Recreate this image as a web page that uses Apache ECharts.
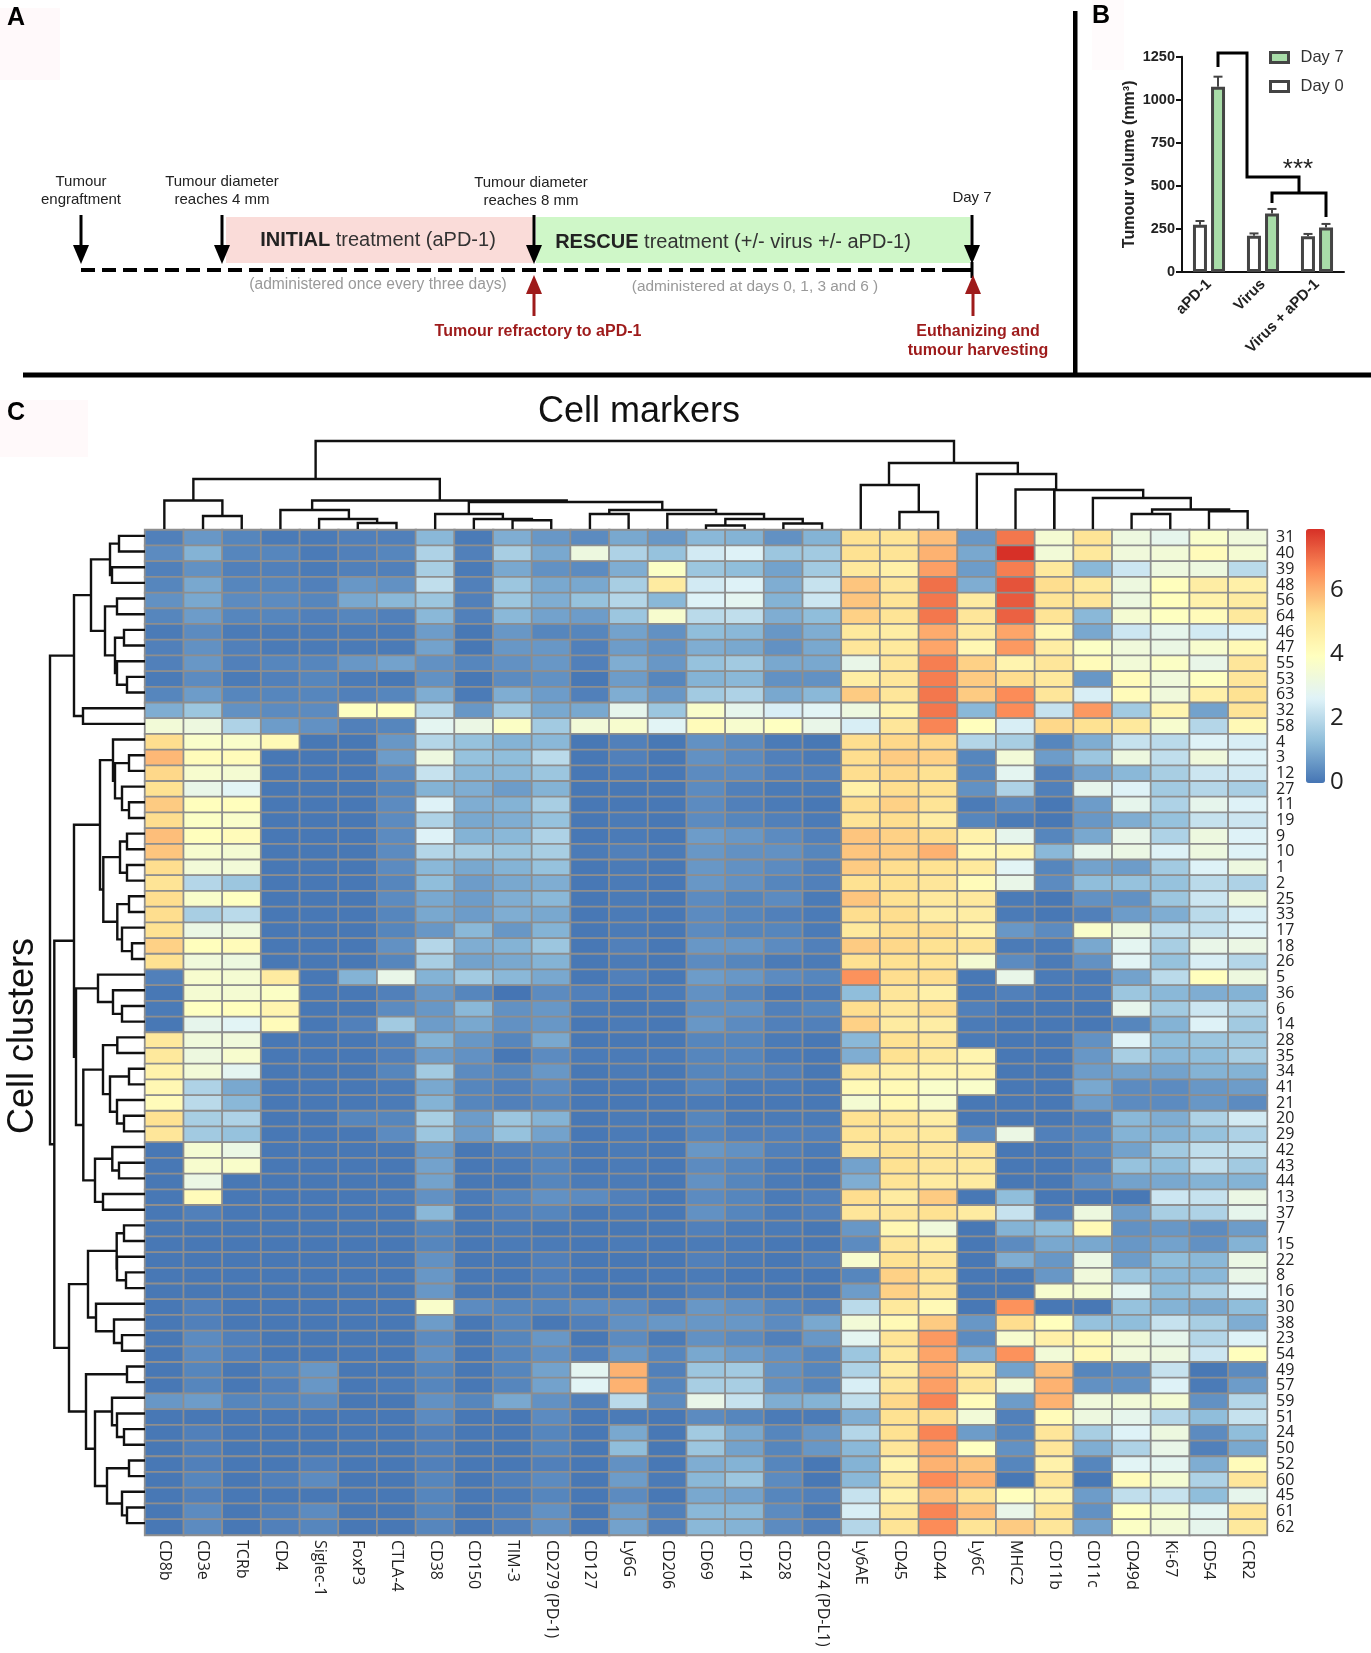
<!DOCTYPE html>
<html><head><meta charset="utf-8">
<script src="https://cdn.jsdelivr.net/npm/echarts@6/dist/echarts.min.js"></script>
<style>html,body{margin:0;padding:0;background:#fff}#c{width:1371px;height:1653px}</style>
</head><body><div id="c"></div>
<script>
// ---------- Panel B data ----------
const barGroups = ['aPD-1', 'Virus', 'Virus + aPD-1'];
const day0Values = [275, 210, 208];
const day7Values = [1075, 340, 258];
const day0Tops = [296, 224, 221];
const day7Tops = [1134, 366, 279];
// ---------- Panel C data ----------
const markers = ['CD8b','CD3e','TCRb','CD4','Siglec-1','FoxP3','CTLA-4','CD38','CD150','TIM-3','CD279 (PD-1)','CD127','Ly6G','CD206','CD69','CD14','CD28','CD274 (PD-L1)','Ly6AE','CD45','CD44','Ly6C','MHC2','CD11b','CD11c','CD49d','Ki-67','CD54','CCR2'];
const clusters = ['31','40','39','48','56','64','46','47','55','53','63','32','58','4','3','12','27','11','19','9','10','1','2','25','33','17','18','26','5','36','6','14','28','35','34','41','21','20','29','42','43','44','13','37','7','15','22','8','16','30','38','23','54','49','57','59','51','24','50','52','60','45','61','62'];
const heatValues = [
[.2,.6,.3,.1,.1,.2,.2,1.2,.1,1,.6,.4,.9,.6,1.2,1.1,.5,1.1,5.2,5.1,5.8,.6,6.9,3.5,5.1,3.2,2.9,3.7,3.3],
[.4,1.1,.3,.3,.1,.2,.3,1.8,.2,1.7,.9,3.2,1.8,1.4,2.4,2.6,1.5,1.6,5.2,5.1,6,.9,7.9,3.4,4.9,3.3,3.4,4.1,3.5],
[.2,.5,.2,.2,.1,.2,.2,1.7,.1,.9,.5,.4,1,3.8,1.5,1.3,.8,1.6,4.9,4.6,6.3,.7,6.8,4.9,1.2,2.3,3.2,3.2,2],
[.3,.9,.3,.3,.2,.6,.5,2.1,.2,1.5,.9,.9,1.7,4.8,2.4,2.6,1,2.2,5.7,5,7,1,7.4,5.3,4.9,3.2,4,4.7,4.6],
[.5,.9,.4,.4,.3,.9,1.2,1.5,.2,1.5,1,1.4,1.9,1.2,2.6,2.8,1.1,2.3,5.7,5.1,6.9,4.8,7.3,5.1,5,3.2,4,4.5,4.8],
[.3,.7,.3,.3,.2,.3,.2,1.2,.2,1.2,.8,.7,1.5,3.6,2,2.1,1,1.3,5.5,5.1,6.9,5,7.2,5.1,1.2,3.5,3.9,4.1,4.9],
[.1,.4,.1,.1,.1,.1,.1,.7,.05,.6,.3,.3,.8,.5,1.3,1.2,.6,1,4.9,4.7,6.1,4.8,6.2,4.3,.9,2.3,2.9,2.4,2.6],
[.2,.5,.2,.1,.1,.1,.1,.8,.05,.6,.6,.2,.7,.5,1,.9,.5,.9,5,4.9,6.2,4.3,6.4,4.7,3.8,3.3,3.1,3.6,4.2],
[.2,.6,.2,.3,.3,.6,.8,.5,.3,.5,.6,.2,1,.6,1.4,1.6,.9,.9,3,5,6.8,5.5,4.4,5,4.1,3.4,3.8,3,5],
[.1,.4,.1,.2,.3,.1,.05,.5,.05,.4,.5,.05,.7,.3,1.1,1.2,.5,.5,4.7,5,6.8,5.6,5.3,4.9,.6,4.1,3.3,3.9,5],
[.3,.7,.3,.3,.3,.2,.3,1,.1,1,.7,.2,1,.6,1.6,1.8,.9,1.2,5.6,5,6.9,5.6,6.6,5,2.5,4.1,3.3,4.6,5.2],
[1,1.5,.5,.4,.4,3.9,3.9,2,.6,1.6,.9,.9,2.9,1.5,3.7,2.9,2.5,2.7,3.2,4.5,6.9,1.2,6.6,2.2,6.4,1.6,4.4,.8,5.1],
[3.4,3.2,1.8,.7,.5,.2,.3,2.8,3.1,3.8,1.6,3.4,3.6,2.7,4.1,3.6,3.9,3,2.5,5,6.7,4,2.5,5.4,5.2,4.9,3.6,1.9,4.2],
[5.3,3.7,3.7,4.2,.05,.05,.6,1.9,1.4,1.1,1.2,.05,.2,.05,.5,.4,.1,.05,5.3,5.4,5.4,1.9,1.7,.3,1,2.2,2,2.6,2.5],
[5.9,4.1,4.1,.05,.05,.05,.7,3.2,1.4,1.3,2,.05,.2,.05,.5,.4,.2,.1,5.3,5.6,5.5,.3,3.4,.7,1.5,3.2,2.1,3.3,2.6],
[5.4,3.6,3.5,.05,.05,.05,.4,2.2,1.2,1.2,1.5,.05,.1,.05,.4,.4,.2,.2,5.3,5.4,5.2,.3,2.8,.2,.8,1.2,1.7,2.3,2.4],
[5.2,3,2.7,.05,.05,.05,.3,1.1,1,.7,1.1,.05,.05,.05,.4,.2,.1,.1,4.6,5.3,5.2,.5,1.8,.2,2.9,2.6,1.6,1.9,1.7],
[5.6,4,4,.05,.05,.05,.4,2.6,1,1.1,1.7,.05,.05,.05,.4,.2,.1,.05,5.3,5.5,5.1,.1,.4,.05,.7,2.9,1.8,2.9,2.6],
[5.3,3.8,3.7,.05,.05,.05,.4,1.8,.9,1,1.4,.05,.1,.05,.4,.3,.2,.1,5.1,5.3,4.7,.3,.1,.05,.6,1,1.4,2.2,2.3],
[5.8,4,4.1,.05,.05,.05,.4,2.6,1.1,1.2,1.8,.05,.1,.05,.7,.6,.4,.2,5.7,5.5,5.3,4.5,2.9,.3,.9,3,1.8,3.2,2.6],
[5.7,3.6,3.5,.05,.05,.05,.4,1.9,1.7,1.5,1.7,.1,.2,.1,.6,.5,.5,.3,5.7,5.6,6,4.3,4.3,1.2,2.9,3.1,2.6,3.2,2.6],
[5.3,3.4,3.4,.05,.05,.05,.4,1.2,.9,1.1,1.4,.05,.1,.05,.6,.5,.4,.2,5.6,5.3,5.2,4.9,2.7,.3,.8,.7,1.6,2.6,3.2],
[5.1,1.9,1.5,.05,.05,.05,.3,1.3,.7,.9,1,.05,.1,.05,.6,.5,.3,.2,5.2,5.2,5,4.1,3,.4,1.3,1.4,1.4,2,1.8],
[5.3,3.7,3.9,.05,.05,.05,.4,.9,.7,1,1.2,.05,.1,.05,.4,.3,.4,.1,5.7,5.2,4.9,4.9,.1,.05,.5,.5,1.5,2.3,3.3],
[5.3,1.7,2,.05,.05,.05,.3,.9,.7,1,.9,.05,.1,.05,.4,.3,.2,.1,5.3,5.3,4.7,4.7,.1,.05,.2,.7,1,2,2.5],
[5.2,3.1,3.2,.05,.05,.05,.3,.6,1.2,.6,1.1,.05,.1,.05,.4,.3,.3,.1,4.9,5.3,5.3,4.5,.6,.4,3.7,3.2,2.1,2.2,2.6],
[5.5,4,4.1,.05,.05,.05,.5,1.9,1,1.1,1.5,.05,.2,.05,.6,.6,.4,.2,5.6,5.4,5.2,5.1,.1,.1,.9,2.8,1.7,3,3.1],
[5.2,3.3,3.2,.05,.05,.05,.3,1.7,.8,.9,1.1,.05,.1,.05,.4,.3,.1,.1,5.2,5.2,5.1,3.5,.4,.1,.5,2.7,1.4,2.5,1.9],
[.2,3.6,3.5,4.8,.05,1.1,3,1.1,1.6,1.2,.9,.05,.2,.05,.7,.6,.4,.3,6.5,5.3,5.3,.05,3,.1,.1,.8,2,4,3.2],
[.05,3.5,3.5,3.8,.05,.05,.2,.6,.3,0,.4,.2,.05,.1,.5,.3,.05,.1,1.3,5,4.6,.05,.2,.05,.1,1.5,1.2,1,1.1],
[.1,3.9,4,4.4,.05,.05,.4,.6,1.2,.5,.6,.1,.05,.05,.5,.5,.2,.3,5.3,5,5.3,.2,.05,.05,.05,2.9,1.6,2.3,1.9],
[.05,2.9,2.7,4.1,.05,.2,1.6,.7,.9,.5,.6,.05,.1,.05,.6,.4,.2,.2,5.5,4.8,4.7,.1,.05,.05,.05,.3,1.1,2.6,1.6],
[4.9,3.3,3.3,.05,.05,.05,.2,1.1,.6,.3,.9,.05,.05,.05,.3,.3,.1,.05,1.2,5.2,5,.1,.05,.05,.5,2.6,1.3,1.5,1.6],
[4.9,3.2,3.6,.05,.05,.05,.2,.7,.5,.05,.4,.1,.1,.1,.3,.3,.1,.05,1,5.2,4.9,4.4,.05,.05,.6,1.7,1.2,1.3,1.7],
[4.5,3.4,2.8,.05,.05,.05,.3,1.6,.4,.3,.6,.05,.1,.05,.3,.3,.2,.05,4.9,4.6,4.4,4.4,.05,.05,.7,.8,.8,1.1,1.1],
[4.3,1.8,.9,.05,.05,.05,.1,.9,.3,.2,.4,.05,.05,.05,.3,.1,.1,.05,4.2,4.2,3.7,3.7,.05,.05,.9,.4,.4,.6,.7],
[4.1,2,1.2,.05,.05,.05,.1,1.1,.3,.2,.3,.05,.05,.05,.1,.05,.05,.05,3.5,4.2,3.6,.05,.05,.05,.7,.4,.4,.6,.4],
[5.2,1.7,1.8,.05,.05,.3,.3,1.7,.7,1.5,1.1,.05,.1,.05,.3,.1,.1,.1,5.2,5.1,4.7,.05,.05,.05,.2,1.2,1,1.8,2.4],
[5,1.6,1.4,.05,.05,.05,.4,1.5,.7,1.4,.8,.05,.1,.05,.3,.2,.2,.2,5.1,5,4.9,.4,3.1,.2,.3,1.1,1.1,1.4,1.8],
[.05,3.5,3.1,.05,.05,.05,.05,.7,.05,.2,.3,.05,.1,.05,.6,.5,.2,.1,5,5.2,5,5,.05,.05,.3,.8,1.6,2.1,2.2],
[.05,3.6,3.7,.05,.05,.05,.05,.8,.05,.1,.3,.05,.1,.05,.4,.3,.1,.05,.8,5.2,5,4.9,.05,.05,.2,1.4,1.3,2.1,1.6],
[.05,3.1,.05,.05,.05,.05,.05,.8,.05,.05,.3,.1,.1,.05,.5,.3,.1,.05,1,5.1,4.8,4.8,.05,.05,.4,.8,.9,1.1,1.1],
[.05,4.1,.05,.05,.05,.05,.1,.5,.1,.3,.5,.4,.2,.05,.4,.3,.1,.2,5.3,4.8,5.6,.05,1.3,.05,.05,.05,2.3,2.2,3.1],
[.05,.2,.05,.05,.05,.05,.05,1.2,.05,.2,.3,.05,.1,.05,.5,.3,.1,.2,5,5,5.2,4.8,2.2,.2,3.2,.7,1.7,1.8,2.9],
[.05,.05,.05,.05,.05,.05,.05,.3,.05,.1,.05,.05,.05,.05,.2,.1,.1,.05,.6,4.3,3.3,.05,1.1,1.3,4.2,.5,.6,.4,.7],
[.05,.05,.05,.05,.05,.05,.05,.3,.05,.1,.1,.05,.1,.05,.1,.1,.05,.05,.4,5,4.6,.05,.4,.9,.9,.6,.8,.5,1.1],
[.05,.05,.05,.05,.05,.05,.05,.5,.05,.05,.2,.05,.05,.05,.2,.1,.05,.2,3.6,5.2,5,.05,1,.6,3.1,.7,1.3,1.2,3.1],
[.05,.05,.05,.05,.05,.05,.05,.6,.05,.05,.2,.05,.05,.05,.1,.05,.05,.05,.3,5.5,5.1,.05,.05,.6,3.3,1.5,1.2,1.2,3],
[.05,.05,.05,.05,.05,.05,.05,.6,.05,.05,.2,.05,.05,.05,.2,.1,.05,.05,.7,5.5,5,.05,.05,3.6,3.5,2.8,1.3,1.8,2.7],
[.05,.2,.05,.05,.05,.05,.05,3.7,.4,.3,.3,.4,.4,.2,.6,.5,.3,.2,2,4.9,4.2,.05,6.5,.05,.05,1.4,1.1,.9,1.3],
[.05,.2,.05,.05,.05,.05,.05,.7,.05,.3,.05,.2,.5,.6,.6,.6,.4,.9,3.4,4.2,5.6,.6,5.3,4,1.4,1.3,2.2,1.7,1],
[.05,.4,.2,.05,.05,.05,.05,.4,.05,.3,.6,.05,.4,.1,.5,.4,.2,.6,2.8,5.1,6.4,.4,3.6,4.6,4.2,3.4,2.9,1.9,2.6],
[.05,.4,.2,.05,.05,.05,.05,.5,.05,.3,.5,.2,.6,.3,.9,.7,.5,.3,1.5,4.9,6.2,1,6.5,3.4,4.2,3.3,3.2,2.3,4],
[.05,.3,.05,.3,.6,.05,.05,.3,.05,.3,.8,2.8,6,.2,1.5,1.6,.5,.3,1.8,4.8,6.1,4.9,.8,5.8,.3,.4,2.2,.05,.4],
[.05,.3,.05,.2,.6,.05,.1,.3,.05,.3,.8,2.7,6,.3,1.7,1.7,.5,.3,2.5,5,6.3,5,3.4,6,.5,.5,2.6,.1,.7],
[.6,.7,.3,.3,.4,.05,.05,.5,.3,.9,.5,.2,2,.4,3,2.2,1,1.1,2.1,5.4,6.7,4.1,.7,6,3.3,3.4,3.5,.5,1.9],
[.05,.05,.05,.05,.05,.05,.05,.4,.05,.05,.4,.05,.1,.05,.4,.3,.1,.1,1,5.2,5.3,3.4,.2,4.1,3.2,2.9,1.9,1.3,2.2],
[.05,.2,.05,.05,.05,.05,.05,.2,.05,.05,.3,.05,.9,.05,1.6,.9,.3,.6,1.9,5.2,6.7,.7,.3,5,1.7,2.6,3.2,.4,1.3],
[.05,.2,.05,.05,.05,.05,.05,.2,.05,.05,.3,.05,1.3,.05,1.5,.8,.3,.6,1.2,5,6.2,3.9,.5,5,1,1.8,3,.2,.9],
[.05,.2,.05,.05,.2,.05,.05,.2,.05,.05,.2,.05,.5,.05,1,1.1,.3,.05,1.1,4.4,6,5.7,.3,4.5,.3,2.7,2.8,1,4.1],
[.05,.3,.05,.2,.4,.05,.05,.3,.05,.2,.4,.05,.7,.1,1.2,1.5,.4,.05,1.2,4.9,6.6,6,.05,5.1,.05,4.1,3.5,1.8,5],
[.05,.2,.05,.05,.05,.05,.05,.3,.05,.1,.3,.05,.4,.05,.9,.8,.3,.2,2.2,4.5,5.8,5.1,4,4.4,.7,2.1,2.2,1.3,2.9],
[.05,.4,.05,.2,.4,.05,.05,.3,.05,.2,.5,.05,.7,.2,1.2,1.2,.4,.1,2.5,5,6.7,5.8,3,5.1,.5,3.9,3.5,2.8,5.1],
[.05,.4,.05,.2,.3,.05,.05,.3,.05,.2,.5,.05,.8,.2,1.2,1.1,.4,.2,1.9,5.1,6.6,5.1,5.6,5,.8,3.8,3.4,2.9,4.9]
];
// Column dendrogram links: [left position, right position, height, left child height, right child height]
const columnLinks = [
[4.41,20.91,88,50,66],[1.25,7.62,50,28.5,28.5],[.5,2,28.5,0,13],[1.5,2.5,13,0,0],[4.32,10.9,28.5,19,27],[3.5,5.27,19,0,10],[4.5,6,10,0,6],[5.5,6.5,6,0,0],[8.37,13.37,27,15,19],[7.5,9.25,15,0,10],[8.5,10,10,0,8.7],[9.5,10.5,8.7,0,0],[12,14.76,19,15,15],[11.5,12.5,15,0,0],[13.5,16,15,0,10],[15,17,10,3.5,5.5],[14.5,15.5,3.5,0,0],[16.5,17.5,5.5,0,0],
[19.23,22.56,66,44,55],[18.5,20,44,0,17],[19.5,20.5,17,0,0],[21.5,23.55,55,0,39],[22.5,23.5,39.5,0,0],[23.5,25.8,39,0,31],[24.5,27.03,31,0,19.5],[26.03,28.02,19.5,15,17.7],[25.5,26.5,15,0,0],[27.5,28.5,17.7,0,0]
];
// Row dendrogram as nested [height, left, right], leaves are row numbers
const upperRows = [71,[54,[35,[26,0,1],[33,2,3]],[40,[28,4,5],[30,[21,6,7],[28,8,[18,9,10]]]]],[62,11,12]];
const middleRows = [71,[45,[32,13,[30,[16,14,15],[23,16,[16,17,18]]]],[41.7,[25,[18,19,20],[18,21,22]],[27.7,[16,23,24],[23,25,[13,26,27]]]]],
  [69,[47,28,[32,29,[23,30,31]]],[61.7,[42,[27.7,32,33],[35,[16,34,35],[28,36,[21,37,38]]]],[50,[32.7,39,[26,40,41]],[42,42,43]]]]];
const lowerRows = [76,[57,[28.3,[21,44,45],[28,46,[19,47,48]]],[49,49,[31,50,[23,51,52]]]],[59,[18,53,54],[50,[33,55,[28,56,[21,57,58]]],[38,[16,59,60],[23,61,[18,62,63]]]]]];
const rowTree = [95, upperRows, [90.7, middleRows, lowerRows]];

const heatColors = ['#4575B4','#91BFDB','#E0F3F8','#FFFFBF','#FEE090','#FC8D59','#D73027'];
const heatData = [];
heatValues.forEach((row, r) => row.forEach((v, c) => heatData.push([c, r, v])));
const rowLinks = [];
function walk(n) {
  if (typeof n === 'number') return {p: n + .5, h: 0};
  const a = walk(n[1]), b = walk(n[2]);
  rowLinks.push([a.p, b.p, n[0], a.h, b.h]);
  return {p: (a.p + b.p) / 2, h: n[0]};
}
walk(rowTree);

const SANS = '"Liberation Sans",Arial,sans-serif';
const OPEN = '"Open Sans",sans-serif';
const g = [];
const txt = (text, x, y, size, fill, opt) => g.push(Object.assign({type:'text', silent:true, x:x, y:y, style:Object.assign({text:text, fill:fill||'#222', font:(opt&&opt.weight?opt.weight+' ':'')+size+'px '+SANS, align:(opt&&opt.align)||'center', verticalAlign:'middle'}, opt&&opt.style)}, opt&&opt.el));
const rect = (x,y,w,h,fill) => g.push({type:'rect', silent:true, shape:{x:x,y:y,width:w,height:h}, style:{fill:fill}});
const poly = (pts,stroke,w,dash) => g.push({type:'polyline', silent:true, shape:{points:pts}, style:{stroke:stroke,lineWidth:w,fill:null,lineDash:dash||null}});
function arrow(x,y0,tip,color){
  const dir = tip>y0?1:-1;
  poly([[x,y0],[x,tip-dir*10]],color,3);
  g.push({type:'polygon',silent:true,shape:{points:[[x-8,tip-dir*19],[x+8,tip-dir*19],[x,tip]]},style:{fill:color}});
}
// faint boxes behind panel letters
rect(0,8,60,72,'#fff9fa'); rect(1092,0,32,70,'#fffbfc'); rect(0,400,88,57,'#fff9fa');
// separators
rect(23,372.5,1348,5,'#000'); rect(1073,11,4.5,365,'#000');
txt('A',16,18,25,'#000',{weight:'bold'});
txt('B',1101,16,25,'#000',{weight:'bold'});
txt('C',16,413,25,'#000',{weight:'bold'});
// Panel A timeline
rect(226,217,308,46,'#fadcd9'); rect(536,217,434,46,'#cff7c8');
poly([[81,270],[947,270]],'#000',4,[14,7]);
poly([[947,270],[972,270]],'#000',4);
poly([[972,262],[972,278]],'#000',3);
arrow(81,215,264,'#000'); arrow(222,215,264,'#000'); arrow(534,215,264,'#000'); arrow(972,215,264,'#000');
const RED='#9e1b1b';
arrow(534,316,275,RED); arrow(973,316,275,RED);
txt('Tumour',81,181.5,15); txt('engraftment',81,199.5,15);
txt('Tumour diameter',222,181.5,15); txt('reaches 4 mm',222,199.5,15);
txt('Tumour diameter',531,183,15); txt('reaches 8 mm',531,201,15);
txt('Day 7',972,198,15);
const boldRich = {b:{fontWeight:'bold',fontSize:20,fontFamily:SANS,fill:'#222'},n:{fontSize:20,fontFamily:SANS,fill:'#333'}};
txt('{b|INITIAL}{n| treatment (aPD-1)}',378,240,20,'#333',{style:{rich:boldRich}});
txt('{b|RESCUE}{n| treatment (+/- virus +/- aPD-1)}',733,242,20,'#333',{style:{rich:boldRich}});
txt('(administered once every three days)',378,285,15.6,'#999');
txt('(administered at days 0, 1, 3 and 6 )',755,287,15.4,'#999');
txt('Tumour refractory to aPD-1',538,332,16,RED,{weight:'bold'});
txt('Euthanizing and',978,332,16,RED,{weight:'bold'});
txt('tumour harvesting',978,351,16,RED,{weight:'bold'});
// Panel B significance bracket
poly([[1218,67],[1218,53],[1247,53],[1247,177],[1299,177],[1299,193]],'#000',3);
poly([[1272,203],[1272,193],[1326,193],[1326,217]],'#000',3);
txt('***',1298,170,26,'#222');
// Panel C titles
txt('Cell markers',639,412,36,'#111');
txt('Cell clusters',23,1036,36,'#111',{el:{rotation:Math.PI/2}});

function dendroRender(swap){
  return function(params, api){
    const xl=api.value(0), xr=api.value(1), h=api.value(2), hl=api.value(3), hr=api.value(4);
    const P = swap ? (p,d)=>api.coord([d,p]) : (p,d)=>api.coord([p,d]);
    return {type:'polyline', silent:true, shape:{points:[P(xl,hl),P(xl,h),P(xr,h),P(xr,hr)]}, style:{stroke:'#111',lineWidth:2.4,fill:null}};
  };
}
function errRender(offset){
  return function(params, api){
    const i=api.value(0), base=api.coord([i,api.value(1)]), top=api.coord([i,api.value(2)]);
    const x=base[0]+offset;
    return {type:'group',silent:true,children:[
      {type:'line',shape:{x1:x,y1:base[1],x2:x,y2:top[1]},style:{stroke:'#444',lineWidth:2}},
      {type:'line',shape:{x1:x-4.5,y1:top[1],x2:x+4.5,y2:top[1]},style:{stroke:'#444',lineWidth:2}}
    ]};
  };
}
const hidden = {show:false};
const option = {
  animation:false, backgroundColor:'#fff', textStyle:{fontFamily:SANS},
  graphic:{elements:g},
  legend:{show:true, orient:'vertical', left:1269, top:49, itemWidth:18, itemHeight:10, itemGap:12, padding:0, selectedMode:false,
    textStyle:{fontSize:16.5, color:'#333', padding:[0,0,0,7], fontFamily:SANS},
    data:[{name:'Day 7',icon:'rect',itemStyle:{color:'#a8dca8',borderColor:'#444',borderWidth:3}},{name:'Day 0',icon:'rect',itemStyle:{color:'#fff',borderColor:'#444',borderWidth:3}}]},
  visualMap:{type:'continuous', seriesIndex:4, dimension:2, min:0, max:7.9, left:1306, top:529, itemWidth:19, itemHeight:254, padding:0, text:null, calculable:false, hoverLink:false, showLabel:false, inRange:{color:heatColors}},
  grid:[
    {left:1182, top:56.7, width:162, height:215.3},
    {left:145, top:530, width:1122, height:1005},
    {left:145, top:429, width:1122, height:100},
    {left:45, top:528, width:100, height:1003},
    {left:1306, top:529, width:19, height:253}
  ],
  xAxis:[
    {gridIndex:0, type:'category', data:barGroups, axisTick:{alignWithLabel:true,length:5,lineStyle:{color:'#111',width:2}}, axisLine:{lineStyle:{color:'#111',width:2}},
      axisLabel:{rotate:45, fontSize:15, fontWeight:'bold', color:'#222', margin:10, interval:0, fontFamily:SANS}},
    {gridIndex:1, type:'category', data:markers, position:'bottom', axisLine:hidden, axisTick:hidden, splitLine:hidden,
      axisLabel:{rotate:-90, fontSize:16, color:'#222', margin:5, interval:0, fontFamily:OPEN}},
    {gridIndex:2, type:'value', min:0, max:29, show:false},
    {gridIndex:3, type:'value', min:0, max:100, inverse:true, show:false},
    {gridIndex:4, type:'value', min:0, max:1, show:false}
  ],
  yAxis:[
    {gridIndex:0, type:'value', min:0, max:1250, interval:250, splitLine:hidden, axisLine:{show:true,lineStyle:{color:'#111',width:2}}, axisTick:{show:true,length:6,lineStyle:{color:'#111',width:2}},
      axisLabel:{fontSize:14.5,fontWeight:'bold',color:'#222',margin:7,fontFamily:SANS,formatter:(v)=>String(v)},
      name:'Tumour volume (mm³)', nameLocation:'middle', nameRotate:90, nameGap:44, nameTextStyle:{fontSize:16,fontWeight:'bold',color:'#222',fontFamily:SANS}},
    {gridIndex:1, type:'category', data:clusters, inverse:true, position:'right', axisLine:hidden, axisTick:hidden, splitLine:hidden,
      axisLabel:{fontSize:16, color:'#222', margin:9, interval:0, align:'left', fontFamily:OPEN}},
    {gridIndex:2, type:'value', min:0, max:100, show:false},
    {gridIndex:3, type:'value', min:0, max:64, inverse:true, show:false},
    {gridIndex:4, type:'value', min:0, max:7.9, interval:2, position:'right', splitLine:hidden, axisLine:hidden, axisTick:hidden,
      axisLabel:{fontSize:24, color:'#222', margin:5, align:'left', fontFamily:OPEN, showMaxLabel:false}}
  ],
  series:[
    {name:'Day 0', type:'bar', xAxisIndex:0, yAxisIndex:0, data:day0Values, barWidth:14, barGap:'29%', z:3, itemStyle:{color:'#fff',borderColor:'#444',borderWidth:3}},
    {name:'Day 7', type:'bar', xAxisIndex:0, yAxisIndex:0, data:day7Values, barWidth:14, barGap:'29%', z:3, itemStyle:{color:'#a8dca8',borderColor:'#444',borderWidth:3}},
    {type:'custom', xAxisIndex:0, yAxisIndex:0, z:2, renderItem:errRender(-9), data:barGroups.map((_,i)=>[i,day0Values[i],day0Tops[i]])},
    {type:'custom', xAxisIndex:0, yAxisIndex:0, z:2, renderItem:errRender(9), data:barGroups.map((_,i)=>[i,day7Values[i],day7Tops[i]])},
    {type:'heatmap', xAxisIndex:1, yAxisIndex:1, data:heatData, itemStyle:{borderColor:'#8e8e8e',borderWidth:1.8}, progressive:0, emphasis:{disabled:true}},
    {type:'custom', xAxisIndex:2, yAxisIndex:2, renderItem:dendroRender(false), data:columnLinks, clip:false},
    {type:'custom', xAxisIndex:3, yAxisIndex:3, renderItem:dendroRender(true), data:rowLinks, clip:false}
  ]
};
const chart = echarts.init(document.getElementById('c'), null, {renderer:'canvas', width:1371, height:1653});
chart.setOption(option);
</script></body></html>
